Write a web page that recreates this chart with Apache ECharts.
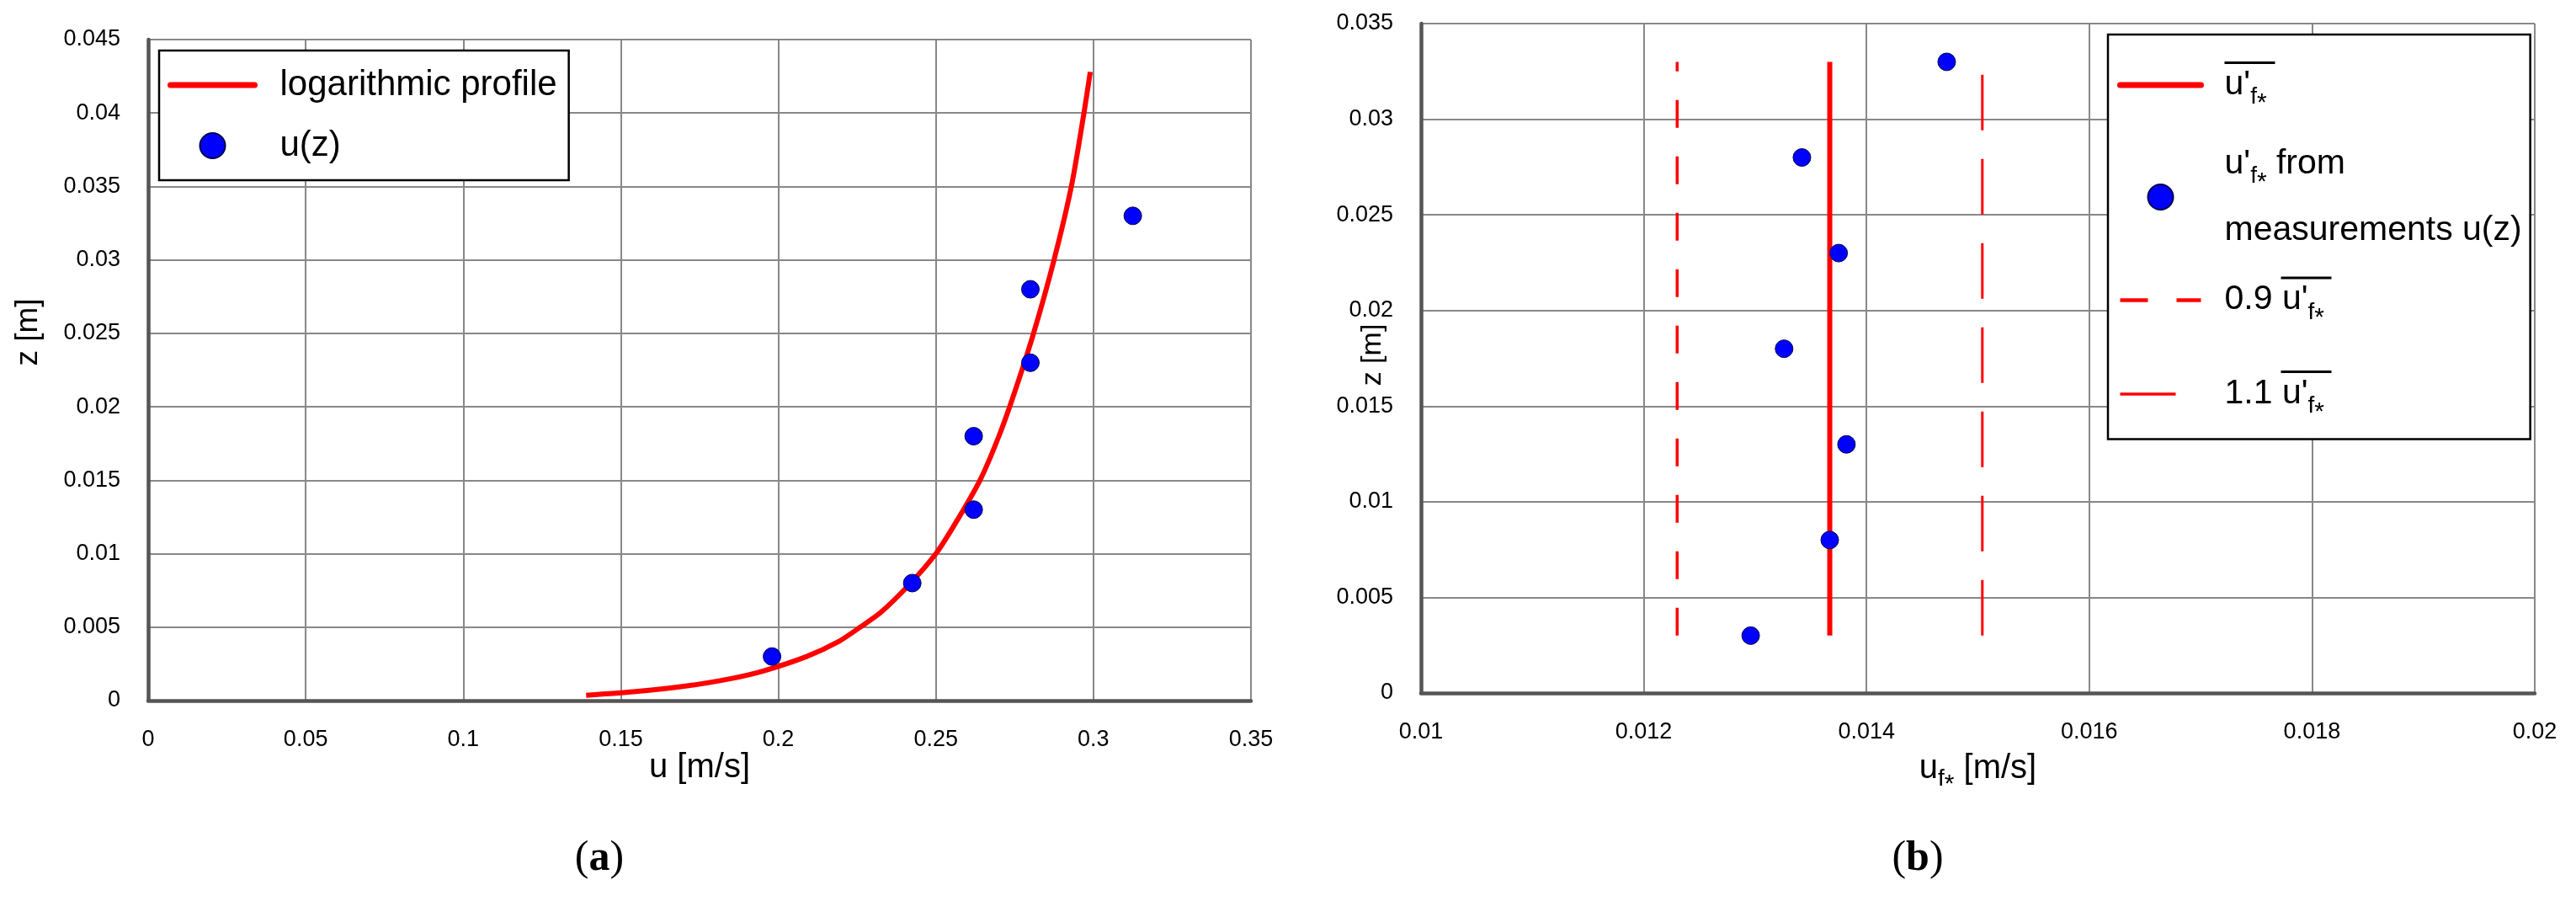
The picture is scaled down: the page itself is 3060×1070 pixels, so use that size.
<!DOCTYPE html>
<html><head><meta charset="utf-8">
<script src="https://cdn.jsdelivr.net/npm/echarts@6/dist/echarts.min.js"></script>
<style>html,body{margin:0;padding:0;background:#fff}#c{width:3060px;height:1070px}</style>
</head><body><div id="c"></div>
<script>
// ---------- data ----------
const profileU = [0.139, 0.154, 0.171, 0.185, 0.195, 0.209, 0.219, 0.226, 0.2325, 0.242, 0.250, 0.256, 0.264, 0.270, 0.275, 0.281, 0.2875, 0.293, 0.297, 0.299];
const profileZ = [0.00036, 0.0006, 0.001, 0.0015, 0.002, 0.003, 0.004, 0.005, 0.006, 0.008, 0.010, 0.012, 0.015, 0.018, 0.021, 0.025, 0.030, 0.035, 0.040, 0.0428];
const measU = [0.198, 0.2425, 0.262, 0.262, 0.280, 0.280, 0.3125];
const measZ = [0.003, 0.008, 0.013, 0.018, 0.023, 0.028, 0.033];
const ufMeas = [0.01296, 0.01367, 0.01382, 0.01326, 0.01375, 0.01342, 0.01472];
const ufZ = [0.003, 0.008, 0.013, 0.018, 0.023, 0.028, 0.033];
const ufMean = 0.01367;
const uf09 = 0.0123;
const uf11 = 0.01504;
const refLineZ = [0.003, 0.033];
const ticksAX = [0, 0.05, 0.1, 0.15, 0.2, 0.25, 0.3, 0.35];
const ticksAY = [0, 0.005, 0.01, 0.015, 0.02, 0.025, 0.03, 0.035, 0.04, 0.045];
const ticksBX = [0.01, 0.012, 0.014, 0.016, 0.018, 0.02];
const ticksBY = [0, 0.005, 0.01, 0.015, 0.02, 0.025, 0.03, 0.035];
const namesA = ['logarithmic profile', 'u(z)'];
const namesB = ["u'f*", "u'f* from measurements u(z)", "0.9 u'f*", "1.1 u'f*"];

// ---------- helpers ----------
const F = '"Liberation Sans", Arial, sans-serif';
const fmt = v => String(parseFloat(v.toFixed(6)));
function pairs(xs, ys) { return xs.map((x, i) => [x, ys[i]]); }
function valAxis(ticks, gridIndex, extra) {
  return Object.assign({
    type: 'value', gridIndex,
    min: ticks[0], max: ticks[ticks.length - 1],
    interval: parseFloat((ticks[1] - ticks[0]).toFixed(6)),
    axisLine: { show: true, onZero: false, lineStyle: { color: '#555', width: 4.5 } },
    axisTick: { show: false },
    splitLine: { show: true, lineStyle: { color: '#888', width: 2 } },
    axisLabel: { color: '#000', fontSize: 27, fontFamily: F, margin: 33, formatter: fmt },
    nameLocation: 'middle',
    nameMoveOverlap: false,
    nameTextStyle: { color: '#000', fontSize: 40, fontFamily: F }
  }, extra);
}

const subRich = {
  s: { fontSize: 28, fontFamily: F, color: '#000', lineHeight: 44, padding: [24, 0, 0, 0] },
  st: { fontSize: 30, fontFamily: F, color: '#000', lineHeight: 44, padding: [38, 0, 0, 0] }
};

const legRichB = {
  sp: { width: 23, height: 1, lineHeight: 1 },
  ov: { width: 60, height: 3, backgroundColor: '#000', lineHeight: 8 },
  pre: { width: 67, height: 1, lineHeight: 8 },
  m: { fontSize: 41, lineHeight: 44, fontFamily: F, color: '#000' },
  f: { fontSize: 28, lineHeight: 44, fontFamily: F, color: '#000', padding: [30, 0, 0, 0] },
  st: { fontSize: 30, lineHeight: 44, fontFamily: F, color: '#000', padding: [44, 0, 0, 0] },
  g8: { width: 1, height: 1, lineHeight: 8 },
  g17: { width: 1, height: 1, lineHeight: 17 },
  g35: { width: 1, height: 1, lineHeight: 35 }
};
const legTextB = {};
legTextB[namesB[0]] = "{g8|}\n{sp|}{ov|}\n{sp|}{m|u'}{f|f}{st|*}\n{g17|}";
legTextB[namesB[1]] = "{sp|}{m|u'}{f|f}{st|*}{m| from}\n{g35|}\n{sp|}{m|measurements u(z)}";
legTextB[namesB[2]] = "{g8|}\n{sp|}{pre|}{ov|}\n{sp|}{m|0.9 u'}{f|f}{st|*}\n{g17|}";
legTextB[namesB[3]] = "{g8|}\n{sp|}{pre|}{ov|}\n{sp|}{m|1.1 u'}{f|f}{st|*}\n{g17|}";

const hidden = { opacity: 0, borderWidth: 0 };
const chart = echarts.init(document.getElementById('c'), null, { renderer: 'canvas' });
chart.setOption({
  backgroundColor: '#fff',
  animation: false,
  grid: [
    { left: 176, top: 47, width: 1310, height: 785 },
    { left: 1688, top: 28, width: 1323, height: 795 }
  ],
  xAxis: [
    valAxis(ticksAX, 0, { name: 'u [m/s]', nameGap: 60 }),
    valAxis(ticksBX, 1, { name: 'u{s|f}{st|*} [m/s]', nameGap: 68,
      nameTextStyle: { color: '#000', fontSize: 40, fontFamily: F, lineHeight: 44, rich: subRich } })
  ],
  yAxis: [
    valAxis(ticksAY, 0, { name: 'z [m]', nameGap: 124,
      nameTextStyle: { color: '#000', fontSize: 37, fontFamily: F, padding: [0, 0, 0, 90] } }),
    valAxis(ticksBY, 1, { name: 'z [m]', nameGap: 40,
      nameTextStyle: { color: '#000', fontSize: 34, fontFamily: F, padding: [0, 0, 0, 8] } })
  ],
  legend: [
    {
      orient: 'vertical', left: 189, top: 60, padding: [19, 14, 19, 10],
      itemWidth: 100, itemHeight: 30, itemGap: 28,
      backgroundColor: '#fff', borderColor: '#000', borderWidth: 2.5, borderRadius: 0,
      selectedMode: false,
      data: [
        { name: namesA[0], itemStyle: hidden, lineStyle: { width: 7, color: '#ff0000', type: 'solid', cap: 'round' } },
        { name: namesA[1] }
      ],
      formatter: n => '{sp|}' + n,
      textStyle: { fontSize: 42, lineHeight: 44, fontFamily: F, color: '#000',
        rich: { sp: { width: 25, height: 1 } } }
    },
    {
      orient: 'vertical', left: 2504, top: 41, padding: [5, 10, 3, 11],
      itemWidth: 96, itemHeight: 30, itemGap: 6,
      backgroundColor: '#fff', borderColor: '#000', borderWidth: 2.5, borderRadius: 0,
      selectedMode: false,
      data: [
        { name: namesB[0], itemStyle: hidden, lineStyle: { width: 7, color: '#ff0000', type: 'solid', cap: 'round' } },
        { name: namesB[1] },
        { name: namesB[2], itemStyle: hidden, lineStyle: { width: 4.5, color: '#ff0000', type: [33, 34] } },
        { name: namesB[3], itemStyle: hidden, lineStyle: { width: 3.5, color: '#ff0000', type: [66, 34] } }
      ],
      formatter: n => legTextB[n],
      textStyle: { fontSize: 41, lineHeight: 1, fontFamily: F, color: '#000', rich: legRichB }
    }
  ],
  series: [
    { name: namesA[0], type: 'line', xAxisIndex: 0, yAxisIndex: 0,
      data: pairs(profileU, profileZ), symbol: 'none', smooth: 0.25,
      lineStyle: { color: '#ff0000', width: 6 }, itemStyle: { color: '#ff0000' }, z: 3 },
    { name: namesA[1], type: 'scatter', xAxisIndex: 0, yAxisIndex: 0,
      data: pairs(measU, measZ), symbol: 'circle', symbolSize: 21,
      itemStyle: { color: '#0000ff', borderColor: '#00004a', borderWidth: 1, opacity: 1 }, z: 4 },
    { name: namesB[0], type: 'line', xAxisIndex: 1, yAxisIndex: 1,
      data: pairs(refLineZ.map(() => ufMean), refLineZ), symbol: 'none',
      lineStyle: { color: '#ff0000', width: 6 }, itemStyle: { color: '#ff0000' }, z: 3 },
    { name: namesB[1], type: 'scatter', xAxisIndex: 1, yAxisIndex: 1,
      data: pairs(ufMeas, ufZ), symbol: 'circle', symbolSize: 21,
      itemStyle: { color: '#0000ff', borderColor: '#00004a', borderWidth: 1, opacity: 1 }, z: 4 },
    { name: namesB[2], type: 'line', xAxisIndex: 1, yAxisIndex: 1,
      data: pairs(refLineZ.map(() => uf09), refLineZ), symbol: 'none',
      lineStyle: { color: '#ff0000', width: 3.5, type: [33, 34] }, itemStyle: { color: '#ff0000' }, z: 3 },
    { name: namesB[3], type: 'line', xAxisIndex: 1, yAxisIndex: 1,
      data: pairs(refLineZ.map(() => uf11), refLineZ), symbol: 'none',
      lineStyle: { color: '#ff0000', width: 3, type: [66, 34] }, itemStyle: { color: '#ff0000' }, z: 3 }
  ],
  graphic: [
    { type: 'text', x: 712, y: 1020, style: { text: '{p|(}{b|a}{p|)}', align: 'center', verticalAlign: 'middle',
      rich: { p: { fontSize: 50, fontFamily: '"Liberation Serif", serif', color: '#000' },
              b: { fontSize: 50, fontWeight: 'bold', fontFamily: '"Liberation Serif", serif', color: '#000' } } } },
    { type: 'text', x: 2278, y: 1020, style: { text: '{p|(}{b|b}{p|)}', align: 'center', verticalAlign: 'middle',
      rich: { p: { fontSize: 50, fontFamily: '"Liberation Serif", serif', color: '#000' },
              b: { fontSize: 50, fontWeight: 'bold', fontFamily: '"Liberation Serif", serif', color: '#000' } } } }
  ]
});
</script></body></html>
